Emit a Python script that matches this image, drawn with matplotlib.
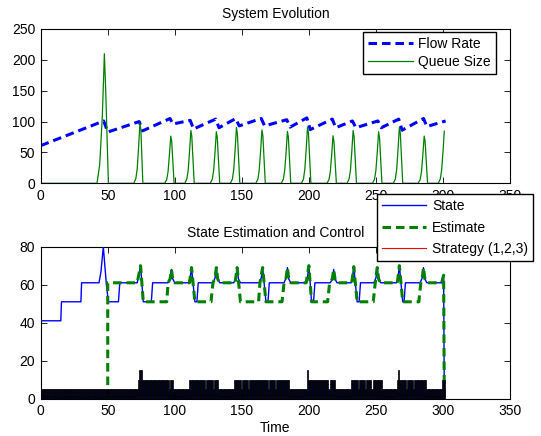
import numpy as np
import matplotlib.pyplot as plt

plt.rcParams['font.family'] = ['Liberation Sans', 'DejaVu Sans']
plt.rcParams['font.size'] = 10

GREEN = (0, 0.5, 0)

# --- top panel data ---
flow_t = [0, 47, 50, 73.5, 76, 96.5, 98.5, 111.5, 114, 130.5, 133, 145.5, 148,
          164.5, 167, 183.5, 186, 198.5, 201, 217.5, 220, 232.5, 235, 251.5,
          254, 267, 269.5, 285.5, 288, 302]
flow_v = [61, 101, 83, 100, 85, 105, 96, 102, 88, 104, 90, 105, 93,
          105, 93, 103, 91, 106, 87, 104, 90, 101, 90, 101,
          90, 104, 86, 105, 92, 101]

queue_t = [0,
           42, 44, 46, 47.5, 48.5, 50.5,
           69.5, 71, 72, 73, 74, 74.7, 76.2,
           92.5, 94, 95, 96, 97, 97.7, 99.5,
           107.5, 109, 110, 111, 112, 112.7, 114.5,
           126.5, 128, 129, 130, 131, 131.7, 133.5,
           141.5, 143, 144, 145, 146, 146.7, 148.5,
           160.5, 162, 163, 164, 165, 165.7, 167.5,
           179.5, 181, 182, 183, 184, 184.7, 186.5,
           194.5, 196, 197, 198, 199, 199.7, 201.5,
           213.5, 215, 216, 217, 218, 218.7, 220.5,
           228.5, 230, 231, 232, 233, 233.7, 235.5,
           247.5, 249, 250, 251, 252, 252.7, 254.5,
           263, 264.5, 265.5, 266.5, 267.5, 268.2, 270,
           281.5, 283, 284, 285, 286, 286.7, 288.5,
           296.5, 298, 299, 300, 301]
queue_v = [0,
           0, 30, 110, 210, 150, 0,
           0, 8, 24, 58, 97, 88, 0,
           0, 6, 19, 46, 76.5, 68, 0,
           0, 7, 21, 51, 85.5, 76, 0,
           0, 7, 21, 50, 83.5, 74, 0,
           0, 7, 23, 54, 90.5, 80, 0,
           0, 7, 22, 52, 86.5, 77, 0,
           0, 7, 21, 50, 84, 75, 0,
           0, 7, 23, 55, 91, 81, 0,
           0, 6, 19, 46, 77, 68, 0,
           0, 7, 21, 51, 85.5, 76, 0,
           0, 7, 21, 50, 83.5, 74, 0,
           0, 7, 23, 55, 91, 81, 0,
           0, 6, 19, 46, 76.5, 68, 0,
           0, 7, 21, 50, 84.5]

# --- bottom panel data ---
state_t = [0, 15, 15.5, 30, 30.5, 43.5, 45, 46.7, 49, 50.5, 58, 59,
           72, 74.5, 76.5, 82.5, 83.5,
           95, 96.5, 97.5, 98.5, 100,
           110, 111.5, 112.5, 115, 116.5, 117.5,
           128.5, 130, 131, 132, 133.5,
           144, 145.5, 146.5, 147.5, 149,
           163, 164.5, 165.5, 168, 169.5, 170.5,
           181.5, 183, 184, 185, 186.5,
           198, 199, 200, 202, 203.5, 204.5,
           216, 217.5, 218.5, 219.5, 221,
           231.5, 232.5, 233.5, 236, 237.5, 238.5,
           248.5, 250, 251, 252, 253.5,
           265.5, 266.5, 267.5, 270, 271, 272,
           283, 284.5, 285.5, 286.5, 288,
           299, 300.5, 301]
state_v = [41, 41, 51, 51, 61, 61, 67, 80, 60, 51, 51, 61,
           61, 70, 51, 51, 61,
           61, 63, 68, 63, 61,
           61, 63.5, 69, 51, 51, 61,
           61, 63.5, 69, 63, 61,
           61, 63.5, 69, 63, 61,
           61, 63.5, 69, 51, 51, 61,
           61, 63.5, 69, 63, 61,
           61, 64, 70, 51, 51, 61,
           61, 63, 68, 63, 61,
           61, 64, 69.5, 51, 51, 61,
           61, 63.5, 69, 63, 61,
           61, 64, 70, 51, 51, 61,
           61, 63.5, 69, 63, 61,
           61, 65, 0]

est_t = [0, 50, 50.01, 72, 74.5, 76.5, 94, 95, 96.5, 97.5, 98.5, 100,
         111, 112.5, 115, 127, 128.5, 130, 131, 132, 133.5,
         145, 146.5, 149, 162.5, 163.5, 165.5, 168, 180, 181.5, 183, 184, 185, 186.5,
         198, 200, 202, 214, 215.5, 217.5, 218.5, 219.5, 221,
         232, 233.5, 236, 248, 249.5, 250, 251, 252, 253.5,
         266, 267.5, 270, 282, 283.5, 284.5, 285.5, 286.5, 288,
         299, 300.5, 301]
est_v = [0, 0, 61, 61, 70, 51, 51, 61, 63, 68, 63, 61,
         61, 69, 51, 51, 61, 63.5, 69, 63, 61,
         61, 69, 51, 51, 61, 69, 51, 51, 61, 63.5, 69, 63, 61,
         61, 70, 51, 51, 61, 63, 68, 63, 61,
         61, 69.5, 51, 51, 61, 63.5, 69, 63, 61,
         61, 70, 51, 51, 61, 63.5, 69, 63, 61,
         61, 65, 0]

strat_breaks = [0, 73, 74, 76, 99, 111, 133, 145, 186, 199, 200, 220, 232,
                255, 266, 267, 268, 288, 300, 302]
strat_levels = [1, 2, 3, 2, 1, 2, 1, 2, 1, 3, 2, 1, 2, 1, 2, 3, 2, 1, 2]
strat_dips = [96, 123, 129, 150, 155, 170, 175, 215, 237, 242, 247, 273, 278]

strategy = np.repeat(strat_levels, np.diff(strat_breaks))
strategy[strat_dips] = 1
strat_t = np.arange(len(strategy))


fig = plt.figure(figsize=(5.41, 4.36), dpi=100)
ax1 = fig.add_axes([0.0752, 0.5796, 0.8675, 0.3539])
ax2 = fig.add_axes([0.0752, 0.0856, 0.8675, 0.3486])

# top panel
ax1.plot(flow_t, flow_v, color='b', lw=2.2, dashes=(2.8, 1.6), label='Flow Rate')
ax1.plot(queue_t, queue_v, color=GREEN, lw=0.9, label='Queue Size')
ax1.set_xlim(0, 350)
ax1.set_ylim(0, 250)
ax1.set_xticks(np.arange(0, 351, 50))
ax1.set_yticks(np.arange(0, 251, 50))
ax1.set_title('System Evolution', fontsize=10, pad=8)
ax1.legend(loc='upper right', bbox_to_anchor=(0.9163, 0.9259),
           bbox_transform=fig.transFigure, fancybox=False, framealpha=1,
           edgecolor='k', handlelength=3.2, handletextpad=0.4,
           borderpad=0.35, labelspacing=0.3, borderaxespad=0)

# bottom panel
l_state, = ax2.plot(state_t, state_v, color='b', lw=1.0, zorder=4, label='State')
l_est, = ax2.plot(est_t, est_v, color=GREEN, lw=2.2, dashes=(2.8, 1.6),
                  zorder=5, label='Estimate')
l_strat, = ax2.plot(strat_t, strategy, color='r', lw=0.8, zorder=1,
                    label='Strategy (1,2,3)')
ax2.bar(strat_t, 5 * strategy, width=1.0, color='#00002a', edgecolor='k',
        lw=0.5, zorder=6)
ax2.set_xlim(0, 350)
ax2.set_ylim(0, 80)
ax2.set_xticks(np.arange(0, 351, 50))
ax2.set_yticks(np.arange(0, 81, 20))
ax2.set_title('State Estimation and Control', fontsize=10, pad=7)
ax2.set_xlabel('Time', labelpad=2)
leg = ax2.legend(handles=[l_state, l_est, l_strat], loc='upper right',
                 bbox_to_anchor=(0.9847, 0.555), bbox_transform=fig.transFigure,
                 fancybox=False, framealpha=1, edgecolor='k', handlelength=3.2,
                 handletextpad=0.4, borderpad=0.35, labelspacing=0.55,
                 borderaxespad=0)
leg.set_zorder(20)

for ax in (ax1, ax2):
    ax.tick_params(direction='in', top=True, right=True, length=4, width=0.6,
                   pad=4)
    for s in ax.spines.values():
        s.set_linewidth(0.8)

fig.savefig('out.png', dpi=100)
